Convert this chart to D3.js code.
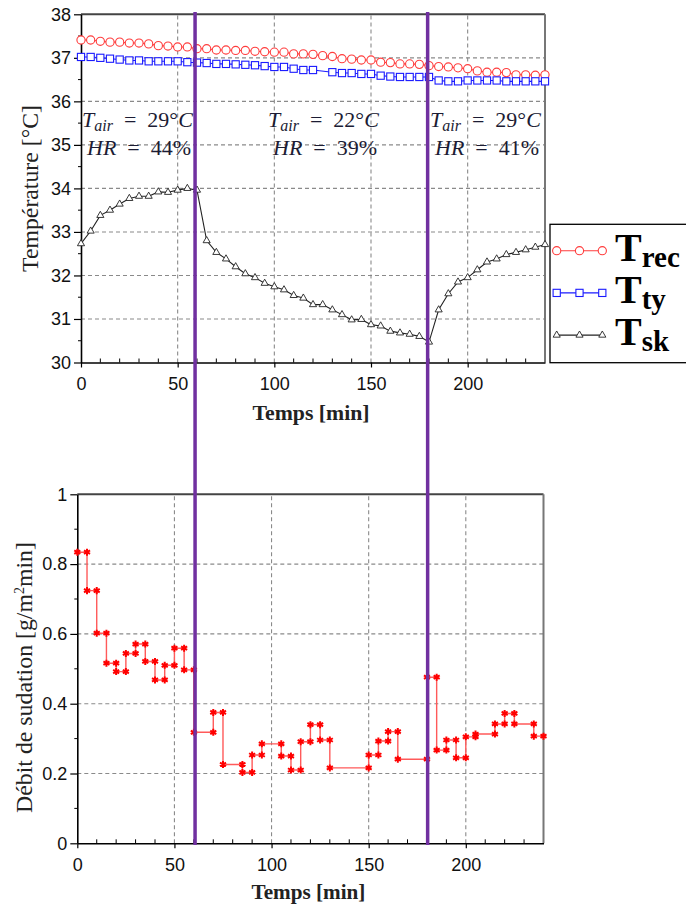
<!DOCTYPE html>
<html><head><meta charset="utf-8">
<script src="https://cdn.jsdelivr.net/npm/d3@7"></script>
<style>body{margin:0;background:#fff}svg{display:block}</style>
</head><body><svg id="c" width="686" height="909"></svg>
<script>
// ---------- DATA ----------
const times = [0,5,10,15,20,25,30,35,40,45,50,55,60,65,70,75,80,85,90,95,100,105,110,115,120,125,130,135,140,145,150,155,160,165,170,175,180,185,190,195,200,205,210,215,220,225,230,235,240];
const tRec = [37.41,37.41,37.38,37.36,37.36,37.34,37.34,37.32,37.28,37.27,37.25,37.25,37.21,37.21,37.18,37.18,37.17,37.17,37.15,37.14,37.13,37.13,37.09,37.09,37.08,37.05,37.03,36.98,36.97,36.95,36.95,36.90,36.89,36.86,36.86,36.85,36.82,36.80,36.79,36.77,36.75,36.70,36.67,36.67,36.66,36.61,36.61,36.60,36.61];
const tTy = [37.02,37.02,37.00,36.98,36.96,36.94,36.94,36.92,36.92,36.92,36.92,36.90,36.89,36.88,36.86,36.86,36.85,36.84,36.83,36.81,36.79,36.79,36.75,36.72,36.72,null,36.67,36.65,36.65,36.63,36.63,36.59,36.57,36.56,36.56,36.56,36.56,36.48,36.46,36.46,36.48,36.48,36.48,36.48,36.46,36.46,36.46,36.46,36.46];
const tSk = [32.73,33.02,33.38,33.50,33.64,33.77,33.82,33.82,33.92,33.91,33.96,34.00,33.96,32.80,32.53,32.38,32.20,32.04,31.95,31.82,31.74,31.67,31.54,31.48,31.33,31.33,31.21,31.10,30.98,30.99,30.87,30.84,30.72,30.68,30.65,30.60,30.47,31.21,31.58,31.85,31.95,32.13,32.31,32.38,32.48,32.53,32.59,32.65,32.71];
const sweatStart = [0,5,10,15,20,25,30,35,40,45,50,55,60,70,75,85,90,95,105,110,115,120,125,130,150,155,160,165,180,185,190,195,200,205,215,220,225,235];
const sweatValue = [0.834,0.724,0.602,0.516,0.492,0.544,0.571,0.521,0.468,0.510,0.559,0.497,0.318,0.375,0.226,0.203,0.253,0.285,0.250,0.210,0.291,0.340,0.296,0.216,0.253,0.293,0.320,0.241,0.476,0.267,0.296,0.245,0.305,0.313,0.342,0.372,0.342,0.307];
const sweatEnd = 240;
const phaseMarks = [59, 179.3];
const xTicks = [0,50,100,150,200];
const xTickLabels = ["0","50","100","150","200"];
const yTicksTop = [30,31,32,33,34,35,36,37,38];
const yTicksBot = [0,0.2,0.4,0.6,0.8,1];
const yTickLabelsBot = ["0","0.2","0.4","0.6","0.8","1"];
const airTemp = ["29","22","29"];
const humidity = ["44","39","41"];
const legendSub = ["rec","ty","sk"];

// ---------- LAYOUT ----------
const svg = d3.select("#c");
svg.append("rect").attr("width",686).attr("height",909).attr("fill","#fff");
const xTop = d3.scaleLinear([0,240],[81,545]);
const yTop = d3.scaleLinear([30,38],[362.5,14.3]);
const xBot = d3.scaleLinear([0,240],[77.3,543.5]);
const yBot = d3.scaleLinear([0,1],[843.3,494.3]);
const SANS = "'Liberation Sans', Arial, sans-serif";
const SERIF = "'Liberation Serif', 'Times New Roman', serif";

function fit(sel, w){
  const len = sel.node().getComputedTextLength();
  const fs = parseFloat(sel.attr("font-size"));
  sel.attr("font-size", fs*w/len);
}

function frame(x, y, yTicks, yLabels, yMinor, xMinor){
  const g = svg.append("g");
  const [x0,x1] = x.range(), [y0,y1] = y.range();
  // grid
  g.selectAll(".gh").data(yTicks.slice(1,-1)).join("line")
    .attr("x1",x0).attr("x2",x1).attr("y1",d=>y(d)).attr("y2",d=>y(d))
    .attr("stroke","#8a8a8a").attr("stroke-width",1.1).attr("stroke-dasharray","4,3");
  g.selectAll(".gv").data(xTicks.slice(1)).join("line")
    .attr("y1",y0).attr("y2",y1).attr("x1",d=>x(d)).attr("x2",d=>x(d))
    .attr("stroke","#8a8a8a").attr("stroke-width",1.1).attr("stroke-dasharray","4,3");
  // top & right border
  g.append("line").attr("x1",x0).attr("x2",x1).attr("y1",y1).attr("y2",y1).attr("stroke","#444").attr("stroke-width",2);
  g.append("line").attr("x1",x1).attr("x2",x1).attr("y1",y1).attr("y2",y0).attr("stroke","#777").attr("stroke-width",2);
  // axes
  const ax = g.append("g").attr("transform",`translate(0,${y0})`)
    .call(d3.axisBottom(x).tickValues(xTicks).tickFormat((d,i)=>xTickLabels[i]).tickSize(5).tickPadding(10).tickSizeOuter(0));
  const ay = g.append("g").attr("transform",`translate(${x0},0)`)
    .call(d3.axisLeft(y).tickValues(yTicks).tickFormat((d,i)=>yLabels[i]).tickSize(7).tickPadding(3).tickSizeOuter(0));
  [ax,ay].forEach(a=>{
    a.select(".domain").attr("stroke","#000").attr("stroke-width",1.6);
    a.selectAll(".tick line").attr("stroke","#000").attr("stroke-width",1.2);
    a.selectAll("text").attr("font-family",SANS).attr("font-size",18).attr("fill","#111");
  });
  g.selectAll(".my").data(yMinor).join("line")
    .attr("x1",x0-3).attr("x2",x0).attr("y1",d=>y(d)).attr("y2",d=>y(d)).attr("stroke","#000").attr("stroke-width",1);
  g.selectAll(".mx").data(xMinor).join("line")
    .attr("x1",d=>x(d)).attr("x2",d=>x(d)).attr("y1",y0-4).attr("y2",y0).attr("stroke","#000").attr("stroke-width",1);
  return g;
}
const xMinor = [10,20,30,40,60,70,80,90,110,120,130,140,160,170,180,190,210,220,230];
frame(xTop, yTop, yTicksTop, yTicksTop.map(String), [30.5,31.5,32.5,33.5,34.5,35.5,36.5,37.5], xMinor);
frame(xBot, yBot, yTicksBot, yTickLabelsBot, [0.1,0.3,0.5,0.7,0.9], xMinor);

// ---------- TOP SERIES ----------
const series = [
  {vals:tRec, color:"#ff3c3c", shape:"circle"},
  {vals:tTy, color:"#1a1aff", shape:"square"},
  {vals:tSk, color:"#222", shape:"triangle"}
];
const gTop = svg.append("g");
function drawMarker(sel, shape, color){
  if(shape==="circle") sel.append("circle").attr("r",4.1).attr("fill","#fff").attr("stroke",color).attr("stroke-width",1.1);
  else if(shape==="square") sel.append("rect").attr("x",-3.6).attr("y",-3.6).attr("width",7.2).attr("height",7.2).attr("fill","#fff").attr("stroke",color).attr("stroke-width",1.1);
  else sel.append("path").attr("d",d3.symbol(d3.symbolTriangle,22)()).attr("fill","#fff").attr("stroke",color).attr("stroke-width",0.9);
}
series.forEach(s=>{
  const pts = times.map((t,i)=>({t, v:s.vals[i]})).filter(d=>d.v!==null);
  gTop.append("path").datum(pts).attr("fill","none").attr("stroke",s.color).attr("stroke-width",1.1)
    .attr("d", d3.line().x(d=>xTop(d.t)).y(d=>yTop(d.v)));
  gTop.selectAll(null).data(pts).join("g")
    .attr("transform",d=>`translate(${xTop(d.t)},${yTop(d.v)})`)
    .each(function(){ drawMarker(d3.select(this), s.shape, s.color); });
});

// ---------- BOTTOM SERIES ----------
const stepPts = [];
sweatStart.forEach((s,i)=>{
  const e = i<sweatStart.length-1 ? sweatStart[i+1] : sweatEnd;
  stepPts.push({t:s, v:sweatValue[i]}, {t:e, v:sweatValue[i]});
});
const gBot = svg.append("g");
gBot.append("path").datum(stepPts).attr("fill","none").attr("stroke","#ff5a5a").attr("stroke-width",1.4)
  .attr("d", d3.line().x(d=>xBot(d.t)).y(d=>yBot(d.v)));
gBot.selectAll(null).data(stepPts).join("path")
  .attr("transform",d=>`translate(${xBot(d.t)},${yBot(d.v)})`)
  .attr("d", d3.symbol(d3.symbolAsterisk, 34)())
  .attr("fill","none").attr("stroke","#ff0000").attr("stroke-width",2);

// ---------- PHASE LINES ----------
svg.selectAll(".ph").data(phaseMarks).join("line")
  .attr("x1",d=>xTop(d)).attr("x2",d=>xTop(d)).attr("y1",12).attr("y2",845)
  .attr("stroke","#7030a0").attr("stroke-width",3.5);

// ---------- ANNOTATIONS ----------
const annotX = [82, 268, 430];
airTemp.forEach((T,i)=>{
  const t1 = svg.append("text").attr("x",annotX[i]).attr("y",127).attr("font-family",SERIF).attr("font-size",22).attr("fill","#1c1c34");
  t1.append("tspan").attr("font-style","italic").text("T");
  t1.append("tspan").attr("font-style","italic").attr("font-size",16).attr("dy",4).text("air");
  t1.append("tspan").attr("dy",-4).text("\u2002=\u2002" + T + "°");
  t1.append("tspan").attr("font-style","italic").text("C");
  const t2 = svg.append("text").attr("x",annotX[i]+5).attr("y",155).attr("font-family",SERIF).attr("font-size",22).attr("fill","#1c1c34");
  t2.append("tspan").attr("font-style","italic").text("HR");
  t2.append("tspan").text("\u2002=\u2002" + humidity[i] + "%");
});

// ---------- AXIS TITLES ----------
const xl1 = svg.append("text").attr("x",xTop(119)).attr("y",420).attr("text-anchor","middle")
  .attr("font-family",SERIF).attr("font-weight","bold").attr("font-size",20).attr("fill","#222").text("Temps [min]");
fit(xl1,117);
const xl2 = svg.append("text").attr("x",xBot(119)).attr("y",899).attr("text-anchor","middle")
  .attr("font-family",SERIF).attr("font-weight","bold").attr("font-size",20).attr("fill","#222").text("Temps [min]");
fit(xl2,114);
const yl1 = svg.append("text").attr("transform","translate(38,188.5) rotate(-90)").attr("text-anchor","middle")
  .attr("font-family",SERIF).attr("font-size",21).attr("fill","#222").text("Température [°C]");
fit(yl1,167);
const yl2 = svg.append("text").attr("transform","translate(31.5,677.5) rotate(-90)").attr("text-anchor","middle")
  .attr("font-family",SERIF).attr("font-size",21).attr("fill","#222");
yl2.append("tspan").text("Débit de sudation [g/m");
yl2.append("tspan").attr("font-size",14).attr("dy",-8).text("2");
yl2.append("tspan").attr("dy",8).text("min]");
fit(yl2,272);

// ---------- LEGEND ----------
const lg = svg.append("g");
lg.append("rect").attr("x",550).attr("y",224.3).attr("width",150).attr("height",138.4)
  .attr("fill","#fff").attr("stroke","#000").attr("stroke-width",1.3);
series.forEach((s,i)=>{
  const yy = 250.7 + i*42.2;
  lg.append("line").attr("x1",556.7).attr("x2",602.3).attr("y1",yy).attr("y2",yy).attr("stroke",s.color).attr("stroke-width",1.1);
  [556.7,579.5,602.3].forEach(xx=>{
    const m = lg.append("g").attr("transform",`translate(${xx},${yy})`);
    drawMarker(m, s.shape, s.color);
  });
  const tx = lg.append("text").attr("x",615).attr("y",yy+10).attr("font-family",SERIF).attr("font-weight","bold").attr("font-size",40).attr("fill","#000");
  tx.append("tspan").text("T");
  tx.append("tspan").attr("font-size",29).attr("dy",6).text(legendSub[i]);
});
</script></body></html>
